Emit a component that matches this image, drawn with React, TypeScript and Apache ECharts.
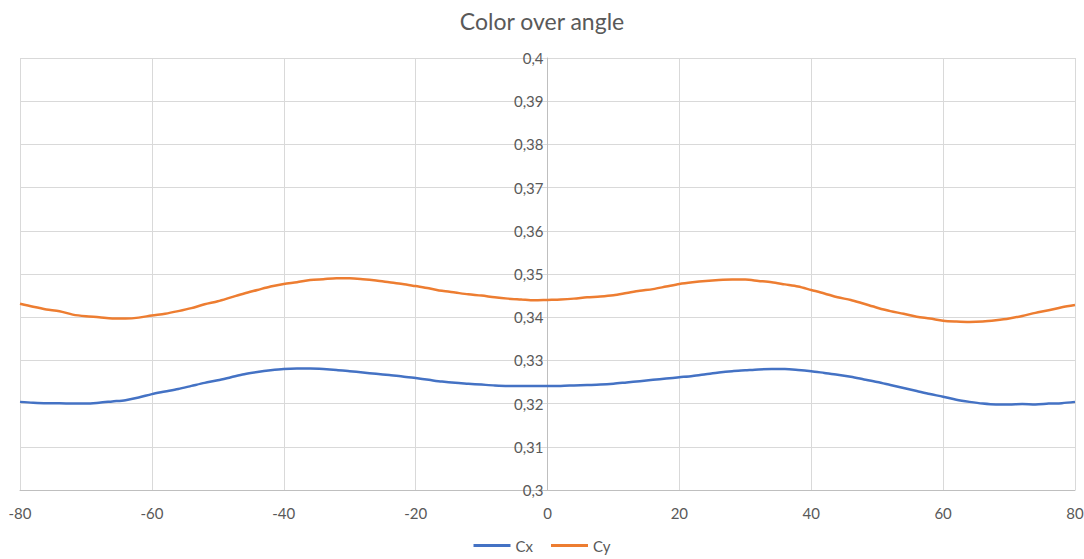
import React, { useEffect, useRef } from "react";
import * as echarts from "echarts";

const angles: number[] = [];
for (let a = -80; a <= 80; a += 2) angles.push(a);

const cxValues = [
  0.3204, 0.3202, 0.3201, 0.3201, 0.32, 0.32, 0.3202, 0.3205, 0.3208, 0.3214,
  0.3222, 0.3228, 0.3234, 0.3241, 0.3248, 0.3254, 0.3261, 0.3268, 0.3273, 0.3277,
  0.328, 0.3281, 0.3281, 0.328, 0.3278, 0.3275, 0.3272, 0.3269, 0.3266, 0.3263,
  0.3259, 0.3255, 0.3251, 0.3248, 0.3246, 0.3244, 0.3242, 0.3241, 0.3241, 0.3241,
  0.3241, 0.3241, 0.3242, 0.3243, 0.3244, 0.3246, 0.3249, 0.3252, 0.3255, 0.3258,
  0.3261, 0.3264, 0.3268, 0.3272, 0.3275, 0.3277, 0.3279, 0.328, 0.328, 0.3278,
  0.3275, 0.3271, 0.3267, 0.3262, 0.3256, 0.325, 0.3243, 0.3236, 0.3229, 0.3222,
  0.3216, 0.3209, 0.3204, 0.32, 0.3198, 0.3198, 0.3199, 0.3198, 0.32, 0.3201,
  0.3204,
];

const cyValues = [
  0.3431, 0.3424, 0.3418, 0.3414, 0.3406, 0.3402, 0.34, 0.3397, 0.3397, 0.3399,
  0.3404, 0.3408, 0.3414, 0.3421, 0.343, 0.3437, 0.3446, 0.3455, 0.3463, 0.3471,
  0.3477, 0.3481, 0.3486, 0.3488, 0.349, 0.349, 0.3488, 0.3485, 0.3481, 0.3477,
  0.3472, 0.3467, 0.3461, 0.3457, 0.3453, 0.345, 0.3446, 0.3443, 0.3441, 0.3439,
  0.344, 0.3441, 0.3443, 0.3446, 0.3448, 0.3451, 0.3456, 0.3461, 0.3465, 0.3471,
  0.3477, 0.3481, 0.3484, 0.3486, 0.3487, 0.3487, 0.3484, 0.3481, 0.3476, 0.3471,
  0.3463, 0.3455, 0.3446, 0.344, 0.3431, 0.3422, 0.3414, 0.3408, 0.3401, 0.3397,
  0.3392, 0.339, 0.3389, 0.339, 0.3393, 0.3397, 0.3403, 0.341, 0.3416, 0.3423,
  0.3428,
];

const FONT = "Lato, 'Open Sans', sans-serif";
const TEXT = "#595959";

const GRID_LEFT = 20;
const GRID_RIGHT = 9;
const WIDTH = 1084;

export default function App() {
  const ref = useRef<HTMLDivElement>(null);
  useEffect(() => {
    if (!ref.current) return;
    const chart = echarts.init(ref.current, undefined, { renderer: "svg" });
    const fmtY = (v: number) => String(Number(v.toFixed(2))).replace(".", ",");
    const plotW = WIDTH - GRID_LEFT - GRID_RIGHT;
    chart.setOption({
      animation: false,
      backgroundColor: "#ffffff",
      title: {
        text: "Color over angle",
        left: "center",
        top: 4,
        textStyle: { fontFamily: FONT, fontSize: 23, fontWeight: "normal", color: TEXT },
      },
      legend: {
        bottom: 1,
        left: "center",
        icon: "rect",
        itemWidth: 37,
        itemHeight: 3,
        itemGap: 18,
        textStyle: { fontFamily: FONT, fontSize: 15, color: TEXT },
        data: ["Cx", "Cy"],
      },
      grid: {
        left: GRID_LEFT,
        right: GRID_RIGHT,
        top: 58,
        bottom: 69,
        containLabel: false,
        outerBoundsMode: "none",
      },
      xAxis: {
        type: "value",
        min: -80,
        max: 80,
        interval: 20,
        axisLine: { show: true, onZero: false, lineStyle: { color: "#bfbfbf", width: 1 } },
        axisTick: { show: false },
        axisLabel: { color: TEXT, fontFamily: FONT, fontSize: 15, margin: 15 },
        splitLine: { show: true, lineStyle: { color: "#d9d9d9", width: 1 } },
      },
      yAxis: {
        type: "value",
        min: 0.3,
        max: 0.4,
        interval: 0.01,
        position: "left",
        offset: -plotW / 2,
        axisLine: { show: true, onZero: false, lineStyle: { color: "#bfbfbf", width: 1 } },
        axisTick: { show: false },
        axisLabel: { color: TEXT, fontFamily: FONT, fontSize: 15, margin: 4, formatter: fmtY },
        splitLine: { show: true, lineStyle: { color: "#d9d9d9", width: 1 } },
      },
      series: [
        {
          name: "Cx",
          type: "line",
          showSymbol: false,
          smooth: 0.3,
          data: angles.map((a, i) => [a, cxValues[i]]),
          lineStyle: { color: "#4472C4", width: 2.5 },
          itemStyle: { color: "#4472C4" },
        },
        {
          name: "Cy",
          type: "line",
          showSymbol: false,
          smooth: 0.3,
          data: angles.map((a, i) => [a, cyValues[i]]),
          lineStyle: { color: "#ED7D31", width: 2.5 },
          itemStyle: { color: "#ED7D31" },
        },
      ],
    });
    return () => chart.dispose();
  }, []);
  return (
    <div
      ref={ref}
      style={{ position: "absolute", left: 0, top: 0, width: WIDTH, height: 559 }}
    />
  );
}
